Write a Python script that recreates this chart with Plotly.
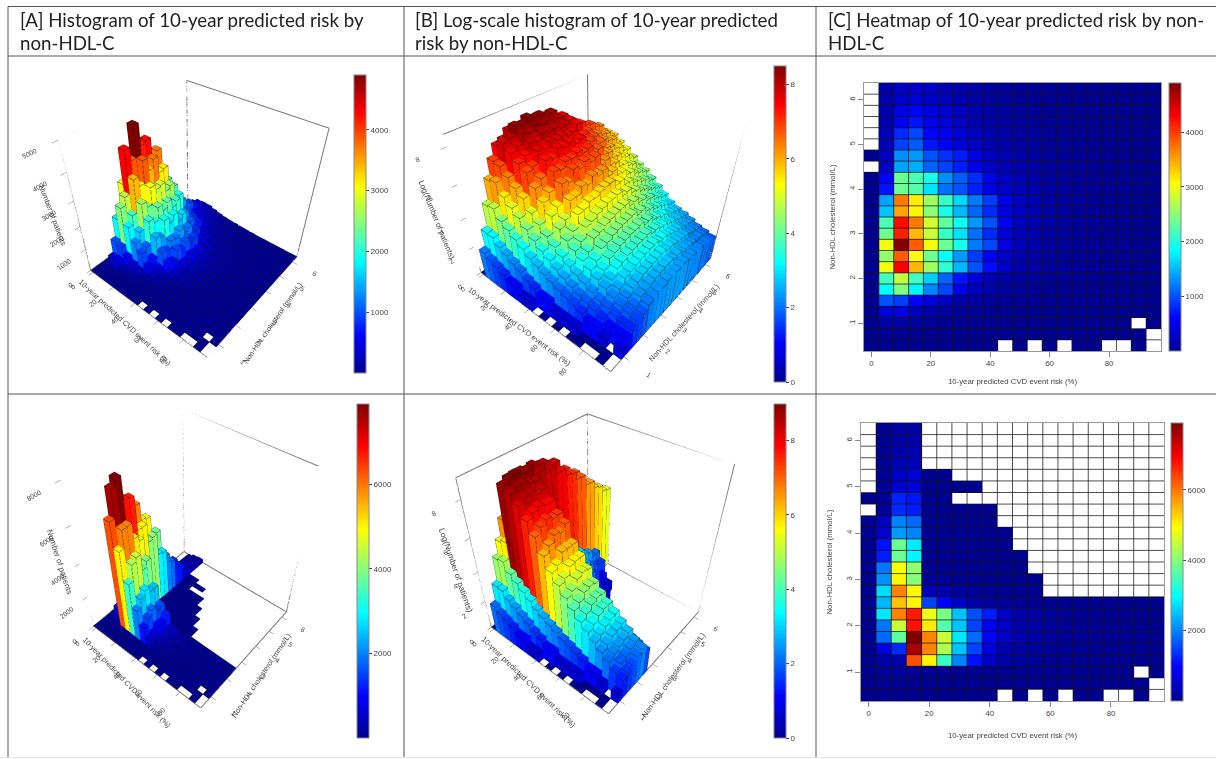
import numpy as np
import plotly.graph_objects as go

N = None
risk = [0, 5, 10, 15, 20, 25, 30, 35, 40, 45, 50, 55, 60, 65, 70, 75, 80, 85, 90, 95]
hdl = [6.25, 6.0, 5.75, 5.5, 5.25, 5.0, 4.75, 4.5, 4.25, 4.0, 3.75, 3.5, 3.25, 3.0, 2.75, 2.5, 2.25, 2.0, 1.75, 1.5, 1.25, 1.0, 0.75, 0.5]

tail_low = [
    [1, 110, 120, 70, 50, 36, 26, 18, 14, 11, 9, 7, 6, 5, 4, 3, 3, 2, N, 2],
    [1, 25, 24, 16, 12, 9, 7, 5, 4, 3, 3, 2, 2, 2, 2, 1, 1, 1, 1, N],
    [1, 8, 6, 5, 4, 3, 3, 2, 2, N, 1, N, 1, N, 1, 1, N, N, 1, N],
]

counts_top = [
    [N, 150, 300, 320, 300, 220, 170, 120, 90, 70, 50, 35, 25, 18, 14, 12, 10, 8, 7, 6],
    [N, 160, 340, 380, 340, 260, 190, 140, 100, 80, 55, 40, 28, 20, 16, 13, 11, 9, 8, 7],
    [N, 180, 480, 620, 460, 380, 270, 180, 130, 95, 70, 48, 34, 24, 18, 15, 12, 10, 9, 8],
    [N, 190, 560, 700, 520, 420, 300, 210, 150, 110, 80, 55, 38, 28, 20, 16, 13, 11, 9, 8],
    [N, 240, 800, 950, 620, 520, 390, 270, 190, 140, 100, 70, 50, 34, 26, 20, 16, 13, 10, 9],
    [N, 250, 920, 1050, 700, 600, 440, 300, 210, 150, 110, 80, 55, 38, 28, 22, 17, 14, 11, 9],
    [3, 280, 1300, 1350, 1000, 840, 740, 460, 300, 210, 140, 100, 70, 48, 34, 26, 19, 15, 12, 10],
    [N, 290, 1400, 1450, 1080, 930, 740, 500, 330, 220, 150, 110, 75, 52, 38, 28, 21, 16, 12, 10],
    [4, 620, 2350, 2200, 1950, 1300, 1060, 820, 520, 330, 220, 150, 100, 70, 48, 34, 25, 18, 14, 11],
    [4, 700, 2350, 2250, 1700, 1150, 1000, 760, 470, 300, 210, 140, 95, 66, 46, 33, 24, 18, 13, 11],
    [5, 1400, 3700, 3150, 2600, 2100, 1650, 1200, 900, 500, 300, 190, 125, 85, 58, 41, 29, 21, 15, 11],
    [5, 1550, 3500, 3100, 2500, 1950, 1500, 1100, 800, 450, 290, 180, 120, 80, 55, 39, 28, 20, 15, 11],
    [5, 2200, 4250, 3700, 2850, 2300, 1900, 1350, 1000, 550, 270, 180, 115, 78, 54, 38, 27, 19, 14, 11],
    [5, 2350, 4150, 3400, 2800, 2100, 1700, 1150, 800, 400, 240, 160, 105, 72, 50, 35, 25, 18, 13, 10],
    [5, 3000, 4900, 3850, 3000, 2350, 1950, 1200, 950, 450, 240, 145, 95, 66, 46, 33, 23, 17, 12, 10],
    [5, 2550, 3850, 3050, 2350, 1850, 1350, 900, 550, 320, 190, 120, 80, 55, 39, 28, 20, 14, 11, 9],
    [5, 3000, 4300, 3400, 2600, 2050, 1500, 1000, 650, 320, 180, 110, 72, 50, 35, 25, 18, 13, 10, 8],
    [4, 2150, 2750, 2150, 1600, 1100, 700, 400, 220, 130, 85, 58, 40, 30, 22, 16, 12, 9, 7, 6],
    [4, 1850, 2450, 1800, 1250, 950, 500, 280, 160, 95, 60, 42, 30, 22, 16, 12, 9, 7, 6, 5],
    [3, 1000, 900, 600, 400, 280, 150, 95, 60, 40, 28, 20, 15, 12, 9, 7, 6, 5, 4, 4],
    [2, 400, 450, 240, 160, 110, 70, 45, 30, 22, 16, 12, 9, 7, 6, 5, 4, 3, 3, 3],
] + tail_low

counts_bottom = [
    [N, 30, 180, 220] + [N] * 16,
    [N, 32, 200, 240] + [N] * 16,
    [N, 40, 300, 350] + [N] * 16,
    [N, 42, 340, 400] + [N] * 16,
    [N, 60, 520, 620, 8, 5] + [N] * 14,
    [N, 60, 560, 650, 8, 5, 3, 2] + [N] * 12,
    [3, 80, 1250, 1150, 12, 6] + [N] * 14,
    [N, 80, 1300, 1200, 14, 8, 5, 3, 2] + [N] * 11,
    [4, 420, 2000, 1800, 20, 12, 7, 4, 2] + [N] * 11,
    [4, 500, 2200, 2000, 20, 12, 7, 5, 3, 2] + [N] * 10,
    [5, 1100, 3800, 2800, 30, 16, 10, 6, 4, 2] + [N] * 10,
    [5, 1200, 3800, 2900, 30, 16, 10, 6, 4, 3, 2] + [N] * 9,
    [5, 1900, 4900, 4100, 60, 25, 14, 8, 5, 3, 2] + [N] * 9,
    [5, 2100, 5000, 4000, 100, 40, 18, 10, 6, 4, 3, 2] + [N] * 8,
    [5, 2700, 5900, 5000, 400, 300, 130, 60, 25, 12, 6, 3] + [N] * 8,
    [5, 2400, 5400, 5000, 1500, 1000, 500, 250, 120, 80, 50, 30, 24, 18, 14, 11, 9, 8, 7, 6],
    [5, 2800, 5900, 6700, 4800, 3900, 2500, 1600, 1200, 500, 300, 180, 100, 66, 46, 33, 23, 17, 12, 10],
    [4, 1900, 4500, 6800, 5100, 3600, 2500, 1500, 900, 500, 300, 200, 110, 70, 46, 30, 20, 14, 10, 8],
    [4, 1800, 3700, 7900, 5900, 4500, 2800, 1800, 1000, 500, 280, 170, 100, 60, 40, 26, 18, 12, 8, 6],
    [3, 700, 1300, 7600, 5900, 4300, 2500, 1500, 700, 300, 180, 110, 70, 45, 30, 20, 14, 10, 7, 5],
    [2, 250, 300, 6300, 5000, 3400, 2000, 1100, 500, 250, 150, 90, 55, 35, 24, 16, 11, 8, 5, 4],
] + tail_low

x_ticks = [0, 20, 40, 60, 80]
y_ticks = [1, 2, 3, 4, 5, 6]
ticks_top_a = [0, 1000, 2000, 3000, 4000, 5000]
ticks_bottom_a = [0, 2000, 4000, 6000, 8000]
ticks_log = [0, 2, 4, 6, 8]
bar_ticks_top = [1000, 2000, 3000, 4000]
bar_ticks_bottom = [2000, 4000, 6000]

titles = [
    ["[A] Histogram of 10-year predicted risk by", "non-HDL-C"],
    ["[B] Log-scale histogram of 10-year predicted", "risk by non-HDL-C"],
    ["[C] Heatmap of 10-year predicted risk by non-", "HDL-C"],
]
x_title = "10-year predicted CVD event risk (%)"
y_title = "Non-HDL cholesterol (mmol/L)"
z_count = "Number of patients"
z_log = "Log(Number of patients)"

JET = [[0, "#00008F"], [0.125, "#0000FF"], [0.375, "#00FFFF"], [0.625, "#FFFF00"], [0.875, "#FF0000"], [1, "#800000"]]
W, H = 1216, 759
TXT = "#444444"
FONT = "Liberation Sans"
DX, DY = 5.0, 0.25
XR = [risk[0] - DX / 2, risk[-1] + DX / 2]
YR = [hdl[-1] - DY / 2, hdl[0] + DY / 2]

# elevation, azimuth, distance, box z, box x, box y, shift right, shift up, page y0, page y1, page centre x
VIEWS = {
    "scene": (41.80, -49.94, 2.885, 1.178, 1.193, 1.200, 0.029, 0.133, 60, 392, 192),
    "scene2": (40.38, -49.81, 2.591, 1.096, 1.200, 1.192, 0.005, 0.126, 60, 392, 597),
    "scene3": (44.58, -50.01, 3.759, 1.539, 1.189, 1.200, 0.011, -0.018, 350, 758, 190),
    "scene4": (42.87, -50.27, 3.085, 1.341, 1.186, 1.200, 0.038, 0.148, 396, 758, 592),
}


def frame(e, az, d, sx, sy):
    ce, se = np.cos(np.radians(e)), np.sin(np.radians(e))
    ca, sa = np.cos(np.radians(az)), np.sin(np.radians(az))
    v = np.array([ce * ca, ce * sa, se])
    r = np.array([-v[1], v[0], 0.0]) / ce
    u = np.cross(r, -v)
    c = -sx * r - sy * u
    return c, c + d * v


def colorbar(px0, py0, py1, tickvals):
    return dict(
        x=px0 / W, xanchor="left", y=1 - py1 / H, yanchor="bottom",
        len=(py1 - py0) / H, lenmode="fraction", thickness=12, thicknessmode="pixels",
        xpad=0, ypad=0, tickvals=tickvals, ticks="outside", ticklen=3, tickcolor=TXT,
        tickfont=dict(family=FONT, size=8, color=TXT), outlinecolor="#888888", outlinewidth=1,
    )


fig = go.Figure()


def bars(z):
    xs, ys, zs, ii, jj, kk, cell = [], [], [], [], [], [], []
    ex, ey, ez = [], [], []
    quads = [(0, 1, 2, 3), (4, 5, 6, 7), (0, 1, 5, 4), (1, 2, 6, 5), (2, 3, 7, 6), (3, 0, 4, 7)]
    links = [(0, 1), (1, 2), (2, 3), (3, 0), (4, 5), (5, 6), (6, 7), (7, 4), (0, 4), (1, 5), (2, 6), (3, 7)]
    for r, h in enumerate(hdl):
        for c, k in enumerate(risk):
            v = z[r, c]
            if np.isnan(v):
                continue
            x0, x1 = k - DX / 2, k + DX / 2
            y0, y1 = h - DY / 2, h + DY / 2
            px = [x0, x1, x1, x0, x0, x1, x1, x0]
            py = [y0, y0, y1, y1, y0, y0, y1, y1]
            pz = [0, 0, 0, 0, v, v, v, v]
            base = len(xs)
            xs += px
            ys += py
            zs += pz
            for a, b, c2, d in quads:
                ii += [base + a, base + a]
                jj += [base + b, base + c2]
                kk += [base + c2, base + d]
                cell += [v, v]
            for a, b in links:
                ex += [px[a], px[b], None]
                ey += [py[a], py[b], None]
                ez += [pz[a], pz[b], None]
    return xs, ys, zs, ii, jj, kk, cell, ex, ey, ez


def add_3d(name, z, zmax, zticks, barpos, bartv):
    e, az, d, Zs, axs, ays, sx, sy, y0, y1, cx = VIEWS[name]
    cen, eye = frame(e, az, d, sx, sy)
    cam = dict(
        eye=dict(x=float(eye[0]), y=float(eye[1]), z=float(eye[2])),
        center=dict(x=float(cen[0]), y=float(cen[1]), z=float(cen[2])),
        up=dict(x=0, y=0, z=1), projection=dict(type="perspective"),
    )
    xs, ys, zs, ii, jj, kk, cell, ex, ey, ez = bars(z)
    fig.add_trace(go.Mesh3d(
        x=xs, y=ys, z=zs, i=ii, j=jj, k=kk, intensity=cell, intensitymode="cell",
        colorscale=JET, cmin=0, cmax=float(np.nanmax(z)), flatshading=True,
        lighting=dict(ambient=1, diffuse=0, specular=0, roughness=1, fresnel=0),
        colorbar=colorbar(*barpos, bartv), scene=name, hoverinfo="skip",
    ))
    fig.add_trace(go.Scatter3d(
        x=ex, y=ey, z=ez, mode="lines", line=dict(color="#101010", width=1),
        scene=name, showlegend=False, hoverinfo="skip",
    ))
    a, b = XR
    cc, dd = YR
    edges = [
        ((a, cc, 0), (a, cc, zmax)), ((a, dd, 0), (a, dd, zmax)), ((b, dd, 0), (b, dd, zmax)),
        ((a, cc, zmax), (a, dd, zmax)), ((a, dd, zmax), (b, dd, zmax)),
        ((a, cc, 0), (b, cc, 0)), ((b, cc, 0), (b, dd, 0)), ((b, dd, 0), (a, dd, 0)), ((a, dd, 0), (a, cc, 0)),
    ]
    wx, wy, wz = [], [], []
    for p1, q in edges:
        wx += [p1[0], q[0], None]
        wy += [p1[1], q[1], None]
        wz += [p1[2], q[2], None]
    fig.add_trace(go.Scatter3d(
        x=wx, y=wy, z=wz, mode="lines", line=dict(color="#777777", width=2),
        scene=name, showlegend=False, hoverinfo="skip",
    ))

    def ax(rng, tv):
        return dict(
            title=dict(text=""), range=rng, tickvals=tv,
            ticks="outside", ticklen=5, tickcolor="#777777", tickwidth=1,
            tickfont=dict(family=FONT, size=9, color=TXT),
            showgrid=False, zeroline=False, showbackground=False, showline=False,
            showspikes=False,
        )
    half = 190
    x0, x1 = max(cx - half, 0), min(cx + half, W)
    fig.update_layout({name: dict(
        domain=dict(x=[x0 / W, x1 / W], y=[1 - y1 / H, 1 - y0 / H]),
        xaxis=ax(XR, x_ticks),
        yaxis=ax(YR, y_ticks),
        zaxis=ax([0, zmax], zticks),
        aspectmode="manual", aspectratio=dict(x=axs, y=ays, z=Zs),
        camera=cam,
        bgcolor="rgba(0,0,0,0)",
    )})


top = np.array([[np.nan if v is None else v for v in r] for r in counts_top], dtype=float)
bottom = np.array([[np.nan if v is None else v for v in r] for r in counts_bottom], dtype=float)

add_3d("scene", top, 5000, ticks_top_a, (354, 75, 373), bar_ticks_top)
add_3d("scene2", np.log(top), 8.6, ticks_log, (774, 66, 382), ticks_log)
add_3d("scene3", bottom, 8000, ticks_bottom_a, (357, 404, 738), bar_ticks_bottom)
add_3d("scene4", np.log(bottom), 9.0, ticks_log, (774, 404, 738), ticks_log)


def add_heat(idx, z, box, barpos, bartv, xstand):
    xa, ya = ("xaxis", "yaxis") if idx == 1 else (f"xaxis{idx}", f"yaxis{idx}")
    xr, yr = ("x", "y") if idx == 1 else (f"x{idx}", f"y{idx}")
    fig.add_trace(go.Heatmap(
        x=risk, y=hdl, z=z, colorscale=JET, zmin=0, zmax=float(np.nanmax(z)),
        colorbar=colorbar(*barpos, bartv), xaxis=xr, yaxis=yr, hoverinfo="skip",
    ))
    gx, gy = [], []
    for k in risk[1:]:
        gx += [k - DX / 2, k - DX / 2, None]
        gy += [YR[0], YR[1], None]
    for h in hdl[:-1]:
        gx += [XR[0], XR[1], None]
        gy += [h - DY / 2, h - DY / 2, None]
    fig.add_trace(go.Scatter(
        x=gx, y=gy, mode="lines", line=dict(color="rgba(20,20,20,0.75)", width=1),
        xaxis=xr, yaxis=yr, showlegend=False, hoverinfo="skip",
    ))
    common = dict(
        showgrid=False, zeroline=False, ticks="outside", ticklen=5, tickcolor="#888888",
        showline=True, linecolor="#999999", linewidth=1, mirror=True,
        tickfont=dict(family=FONT, size=7.8, color=TXT),
    )
    fig.update_layout({
        xa: dict(domain=[box[0] / W, box[2] / W], range=XR, tickvals=x_ticks, anchor=yr,
                 title=dict(text=x_title, font=dict(family=FONT, size=7.8, color=TXT), standoff=xstand), **common),
        ya: dict(domain=[1 - box[3] / H, 1 - box[1] / H], range=YR, tickvals=y_ticks, anchor=xr, tickangle=-90,
                 title=dict(text=y_title, font=dict(family=FONT, size=7.8, color=TXT), standoff=11), **common),
    })


add_heat(1, top, (864, 83, 1161, 351), (1169, 83, 351), bar_ticks_top, 11)
add_heat(2, bottom, (861, 423, 1164, 701), (1171, 423, 701), bar_ticks_bottom, 15)

annos = []
for col_x, lines in zip((18, 413, 826), titles):
    for t, py in zip(lines, (20, 43)):
        annos.append(dict(
            text=t, x=col_x / W, y=1 - py / H, xref="paper", yref="paper", xanchor="left", yanchor="middle",
            showarrow=False, font=dict(family="Lato", size=18.7, color="#222222"),
        ))

# axis titles of the 3-D panels: text, page x, page y, angle, size
axis_titles = [
    (x_title, 125, 322, 43, 7.4), (y_title, 272, 323, -55, 7.2), (z_count, 53, 215, 69, 7.6),
    (x_title, 519, 327, 37, 7.6), (y_title, 684, 322, -48, 7.5), (z_log, 436, 220, 68, 7.8),
    (x_title, 127, 682, 46, 7.4), (y_title, 261, 675, -56, 7.4), (z_count, 60, 562, 72, 8.0),
    (x_title, 529, 682, 44, 7.7), (y_title, 673, 675, -54, 7.6), (z_log, 456, 570, 71, 8.2),
]
for t, px, py, ang, size in axis_titles:
    annos.append(dict(
        text=t, x=px / W, y=1 - py / H, xref="paper", yref="paper", xanchor="center", yanchor="middle",
        textangle=ang, showarrow=False, font=dict(family=FONT, size=size, color=TXT),
    ))

RULE = "#555555"
shapes = []
for px in (8, 404, 816):
    shapes.append(dict(type="line", xref="paper", yref="paper", x0=px / W, x1=px / W, y0=1 - 757 / H, y1=1 - 6.5 / H, line=dict(color=RULE, width=1)))
for py in (6.5, 56, 394):
    shapes.append(dict(type="line", xref="paper", yref="paper", x0=8 / W, x1=1216 / W, y0=1 - py / H, y1=1 - py / H, line=dict(color=RULE, width=1)))
shapes.append(dict(type="line", xref="paper", yref="paper", x0=0, x1=1, y0=1 - 757.5 / H, y1=1 - 757.5 / H, line=dict(color="#e6e6e6", width=1)))

fig.update_layout(
    width=W, height=H, autosize=False, margin=dict(l=0, r=0, t=0, b=0),
    paper_bgcolor="white", plot_bgcolor="white", showlegend=False,
    annotations=annos, shapes=shapes,
)
fig.write_html("out.html", config={"displayModeBar": False},
               post_script="document.body.style.margin='0';document.body.style.overflow='hidden';")
